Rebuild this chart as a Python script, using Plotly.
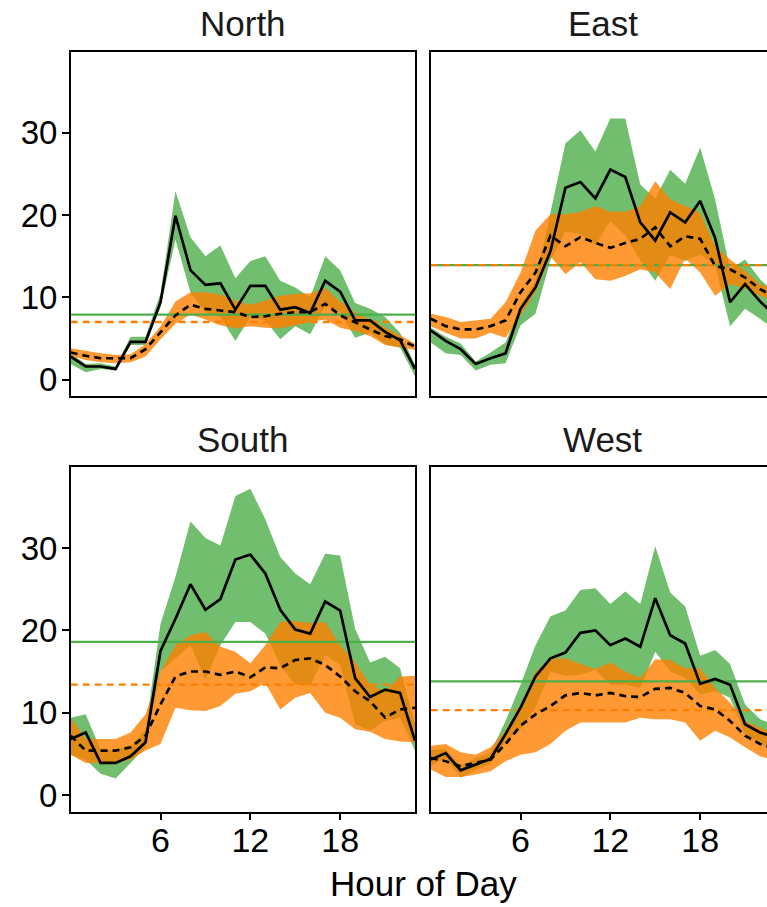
import plotly.graph_objects as go

hours = list(range(24))
regions = ["North", "East", "South", "West"]

# ---- North ----
north_green_mean = [2.8,1.6,1.6,1.3,4.6,4.6,9.4,19.9,13.3,11.5,11.7,8.5,11.4,11.4,8.5,8.8,8.1,12.0,10.7,7.2,7.2,5.8,4.8,1.3]
north_green_hi   = [3.2,1.9,2.0,1.6,5.2,5.2,10.5,22.9,17.3,15.0,16.3,12.3,14.4,15.0,12.0,11.2,10.0,15.0,13.3,9.3,8.6,7.6,5.7,1.8]
north_green_lo   = [1.9,0.9,1.3,1.1,4.2,4.2,8.8,17.0,10.6,8.2,7.6,4.7,7.6,7.2,4.9,6.5,5.5,9.0,8.2,5.1,5.7,4.3,3.9,0.4]
north_orange_mean = [3.3,2.9,2.6,2.6,2.6,3.7,5.7,7.8,9.1,8.6,8.4,8.2,7.6,7.7,8.0,8.2,8.2,9.2,7.8,6.9,6.1,5.3,4.9,4.0]
north_orange_hi   = [3.8,3.5,3.2,3.0,3.1,4.3,6.5,9.5,10.6,10.6,10.3,9.6,9.1,9.6,10.2,10.4,10.5,11.1,9.5,8.2,7.3,6.3,5.4,4.4]
north_orange_lo   = [2.9,2.4,2.1,2.0,2.1,2.8,4.9,6.8,7.9,7.3,6.6,6.2,6.5,6.3,6.2,6.6,7.0,7.3,6.3,5.9,5.3,4.2,3.9,3.6]

# ---- East ----
east_green_mean = [6.0,4.7,3.7,1.9,2.6,3.2,8.6,11.2,15.6,23.3,24.0,22.0,25.5,24.6,19.1,16.9,20.3,19.1,21.7,17.2,9.4,11.6,9.5,7.8]
east_green_hi   = [6.3,5.2,4.4,2.2,3.3,4.5,9.0,12.0,20.3,28.7,30.3,27.7,31.7,31.7,23.7,22.0,25.5,23.8,28.2,21.9,13.4,14.6,12.2,10.5]
east_green_lo   = [4.5,3.2,3.0,1.1,1.8,2.0,6.6,8.0,14.5,18.0,17.7,16.3,19.3,17.5,14.5,12.0,15.1,14.4,15.2,13.9,6.5,8.6,7.4,6.0]
east_orange_mean = [7.4,6.5,6.1,6.1,6.5,7.2,10.6,13.0,17.5,16.2,17.3,16.6,16.0,16.6,17.1,18.5,16.2,17.4,17.1,13.8,13.4,12.4,11.0,10.0]
east_orange_hi   = [8.0,7.6,7.0,7.2,7.4,9.4,13.0,18.1,20.1,20.1,20.4,21.1,20.4,20.4,21.1,24.1,21.9,21.1,20.3,16.2,14.6,13.2,11.6,11.0]
east_orange_lo   = [6.5,5.7,5.0,5.0,5.7,5.1,7.8,10.6,15.0,12.8,14.3,12.2,12.0,12.6,13.4,13.0,11.0,14.7,13.0,10.2,11.6,11.1,10.2,9.5]

# ---- South ----
south_green_mean = [6.8,7.6,3.9,3.9,4.7,6.4,17.5,21.4,25.6,22.5,23.8,28.6,29.2,26.9,22.5,20.1,19.6,23.5,22.4,14.2,11.9,12.8,12.4,6.6]
south_green_hi   = [9.4,9.8,5.5,5.5,6.0,8.0,20.8,26.5,33.2,31.2,30.3,36.3,37.2,33.5,28.9,26.9,25.6,29.3,29.1,20.2,16.1,16.8,15.4,8.6]
south_green_lo   = [4.9,4.3,2.6,2.0,3.9,5.8,15.0,16.6,18.2,14.0,18.2,21.0,21.0,19.6,15.8,13.4,13.3,17.0,15.8,8.6,7.8,9.0,9.4,5.4]
south_orange_mean = [7.2,5.4,5.4,5.4,5.8,7.2,11.0,14.4,15.0,15.0,14.6,15.0,14.3,15.5,15.4,16.4,16.6,15.8,14.4,12.6,11.4,9.4,10.4,10.6]
south_orange_hi   = [9.4,6.8,6.8,6.8,7.6,9.8,15.0,18.2,19.4,19.8,18.0,17.4,16.0,18.2,21.0,21.1,20.9,21.0,18.2,16.2,13.4,12.6,14.4,14.5]
south_orange_lo   = [4.9,3.9,3.9,3.9,4.3,5.4,6.2,10.6,10.3,10.2,10.8,12.3,12.6,13.6,10.4,11.8,12.4,10.0,9.4,8.0,7.7,6.8,6.5,6.4]

# ---- West ----
west_green_mean = [4.3,5.1,3.0,3.7,4.4,7.4,10.6,14.4,16.6,17.3,19.7,20.0,18.2,19.0,18.0,23.9,19.4,18.4,13.5,14.1,13.4,8.6,7.6,7.0]
west_green_hi   = [5.5,5.6,3.6,4.5,5.2,9.0,13.4,18.2,21.7,22.4,24.9,25.1,23.2,24.7,23.2,30.2,24.6,22.9,16.9,17.6,15.9,11.0,9.2,8.5]
west_green_lo   = [3.6,4.5,2.1,3.0,3.8,6.5,8.0,10.7,15.0,14.5,14.6,15.2,13.4,13.4,13.0,17.4,15.0,14.2,12.2,12.6,11.8,7.4,6.2,5.6]
west_orange_mean = [4.5,4.1,3.5,3.9,4.3,6.2,8.4,9.8,10.8,12.1,12.4,12.1,12.4,12.0,11.9,12.9,13.0,12.4,10.8,10.4,9.0,7.2,6.2,5.6]
west_orange_hi   = [6.0,6.2,5.2,4.9,5.8,7.8,11.0,15.0,16.5,16.6,15.9,15.3,16.1,15.0,14.2,16.5,16.4,15.4,15.4,13.0,11.2,9.0,8.2,7.4]
west_orange_lo   = [3.1,2.2,2.2,2.5,2.9,4.1,4.9,5.2,6.2,7.8,8.8,8.8,8.8,8.8,9.4,9.2,9.2,8.8,6.6,7.8,7.0,5.8,4.7,4.2]

# overall average levels (horizontal reference lines)
green_level = [7.9, 13.9, 18.6, 13.8]
orange_level = [7.0, 13.9, 13.4, 10.3]

x_ticks = [6, 12, 18]
y_ticks = [0, 10, 20, 30]

data = {
    "North": (north_green_lo, north_green_mean, north_green_hi, north_orange_lo, north_orange_mean, north_orange_hi),
    "East": (east_green_lo, east_green_mean, east_green_hi, east_orange_lo, east_orange_mean, east_orange_hi),
    "South": (south_green_lo, south_green_mean, south_green_hi, south_orange_lo, south_orange_mean, south_orange_hi),
    "West": (west_green_lo, west_green_mean, west_green_hi, west_orange_lo, west_orange_mean, west_orange_hi),
}

W, H = 767, 907
GREEN = "#4DAF4A"
ORANGE = "#FF7F00"
GREEN_FILL = "rgba(77,175,74,0.8)"
ORANGE_FILL = "rgba(255,127,0,0.8)"
FONT = "Liberation Sans, Arial, sans-serif"
DASH = "7px,5px"

# panel pixel boxes (left, right, top, bottom)
boxes = {
    "North": (70.7, 415.0, 52.0, 397.0),
    "East": (430.7, 767.0, 52.0, 397.0),
    "South": (70.7, 415.0, 468.3, 813.3),
    "West": (430.7, 767.0, 468.3, 813.3),
}
hour_px = (415.0 - 70.7) / 23.0

fig = go.Figure()
layout = {}
for i, reg in enumerate(regions):
    n = i + 1
    xa = "x" if n == 1 else f"x{n}"
    ya = "y" if n == 1 else f"y{n}"
    glo, gm, ghi, olo, om, ohi = data[reg]
    fig.add_trace(go.Scatter(x=hours + hours[::-1], y=ghi + glo[::-1], fill="toself",
                             fillcolor=GREEN_FILL, line=dict(width=0), mode="lines",
                             xaxis=xa, yaxis=ya, showlegend=False, hoverinfo="skip"))
    fig.add_trace(go.Scatter(x=hours + hours[::-1], y=ohi + olo[::-1], fill="toself",
                             fillcolor=ORANGE_FILL, line=dict(width=0), mode="lines",
                             xaxis=xa, yaxis=ya, showlegend=False, hoverinfo="skip"))
    fig.add_trace(go.Scatter(x=[hours[0], hours[-1]], y=[green_level[i]] * 2, mode="lines",
                             line=dict(color=GREEN, width=2.3), xaxis=xa, yaxis=ya, showlegend=False))
    fig.add_trace(go.Scatter(x=[hours[0], hours[-1]], y=[orange_level[i]] * 2, mode="lines",
                             line=dict(color=ORANGE, width=2.3, dash=DASH), xaxis=xa, yaxis=ya, showlegend=False))
    fig.add_trace(go.Scatter(x=hours, y=gm, mode="lines", line=dict(color="black", width=2.7),
                             xaxis=xa, yaxis=ya, showlegend=False))
    fig.add_trace(go.Scatter(x=hours, y=om, mode="lines", line=dict(color="black", width=2.7, dash=DASH),
                             xaxis=xa, yaxis=ya, showlegend=False))

    l, r, t, b = boxes[reg]
    is_right = reg in ("East", "West")
    is_bottom = reg in ("South", "West")
    xmax = (r - l) / hour_px
    layout["xaxis" if n == 1 else f"xaxis{n}"] = dict(
        domain=[l / W, r / W], anchor=ya, range=[0, xmax], tickvals=x_ticks,
        showticklabels=is_bottom, ticks="outside" if is_bottom else "", ticklen=7, tickwidth=2,
        tickcolor="black", showgrid=False, zeroline=False, showline=True, linecolor="black",
        linewidth=1.5, mirror=True, tickfont=dict(family=FONT, size=34, color="black"),
        ticklabelstandoff=-9,
    )
    layout["yaxis" if n == 1 else f"yaxis{n}"] = dict(
        domain=[1 - b / H, 1 - t / H], anchor=xa, range=[-2, 39.8], tickvals=y_ticks,
        showticklabels=not is_right, ticks="" if is_right else "outside", ticklen=7, tickwidth=2,
        tickcolor="black", showgrid=False, zeroline=False, showline=True, linecolor="black",
        linewidth=1.5, mirror=not is_right, tickfont=dict(family=FONT, size=33, color="black"),
        ticklabelstandoff=-2,
    )

annotations = []
for reg in regions:
    l, r, t, b = boxes[reg]
    full_r = l + 23 * hour_px
    annotations.append(dict(text=reg, x=(l + full_r) / 2 / W, y=1 - (t - 28) / H, xref="paper", yref="paper",
                            xanchor="center", yanchor="middle", showarrow=False,
                            font=dict(family=FONT, size=35, color="#1a1a1a")))
annotations.append(dict(text="Hour of Day", x=423 / W, y=1 - 885 / H, xref="paper", yref="paper",
                        xanchor="center", yanchor="middle", showarrow=False,
                        font=dict(family=FONT, size=35, color="black")))

fig.update_layout(width=W, height=H, margin=dict(l=0, r=0, t=0, b=0), paper_bgcolor="white",
                  plot_bgcolor="white", annotations=annotations, **layout)
fig.write_html("out.html")
